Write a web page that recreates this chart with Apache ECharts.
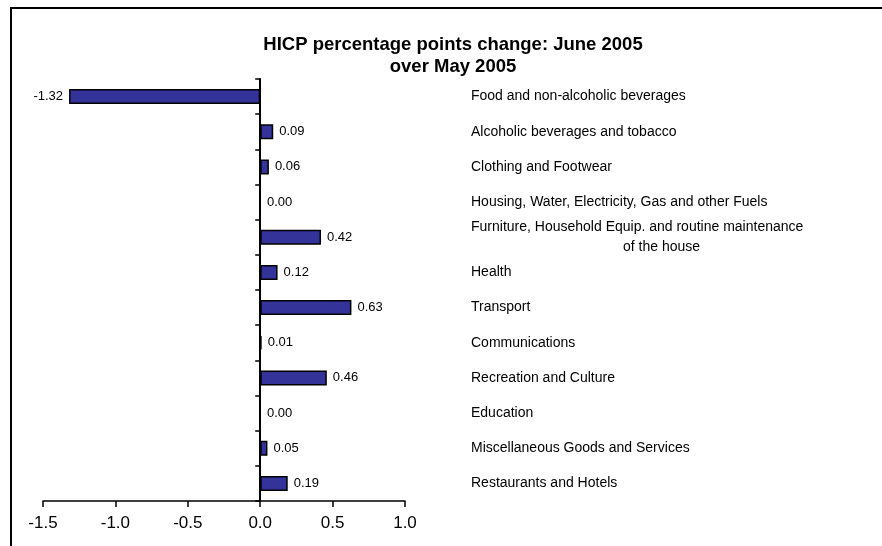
<!DOCTYPE html>
<html>
<head>
<meta charset="utf-8">
<script src="https://cdn.jsdelivr.net/npm/echarts@6/dist/echarts.min.js"></script>
<style>html,body{margin:0;padding:0;background:#fff}#c{width:882px;height:546px}</style>
</head>
<body>
<div id="c"></div>
<script>
const categories = [
  "Food and non-alcoholic beverages",
  "Alcoholic beverages and tobacco",
  "Clothing and Footwear",
  "Housing, Water, Electricity, Gas and other Fuels",
  "Furniture, Household Equip. and routine maintenance|of the house",
  "Health",
  "Transport",
  "Communications",
  "Recreation and Culture",
  "Education",
  "Miscellaneous Goods and Services",
  "Restaurants and Hotels"
];
const values = [-1.32, 0.09, 0.06, 0.00, 0.42, 0.12, 0.63, 0.01, 0.46, 0.00, 0.05, 0.19];
const titleLines = ["HICP percentage points change: June 2005", "over May 2005"];

const FONT = "'Liberation Sans', Arial, sans-serif";
const chart = echarts.init(document.getElementById('c'));
chart.setOption({
  animation: false,
  backgroundColor: '#fff',
  title: {
    text: titleLines.join('\n'),
    left: 448, top: 29, textAlign: 'center',
    textStyle: { fontFamily: FONT, fontSize: 18.5, fontWeight: 'bold', color: '#000', lineHeight: 22 }
  },
  graphic: [{
    type: 'rect', shape: { x: 11, y: 8, width: 900, height: 600 },
    style: { fill: 'none', stroke: '#000', lineWidth: 2 }
  }],
  grid: { left: 43, right: 477, top: 79, bottom: 45 },
  xAxis: {
    type: 'value', min: -1.5, max: 1.0, interval: 0.5,
    axisLine: { show: true, lineStyle: { color: '#000', width: 1.5 } },
    axisTick: { show: true, length: 6, lineStyle: { color: '#000', width: 1.5 } },
    axisLabel: { fontFamily: FONT, fontSize: 17, color: '#000', margin: 14, formatter: v => v.toFixed(1) },
    splitLine: { show: false }
  },
  yAxis: [{
    type: 'category', data: categories, inverse: true,
    axisLine: { onZero: true, lineStyle: { color: '#000', width: 2 } },
    axisTick: { show: true, length: 5, lineStyle: { color: '#000', width: 1.5 } },
    axisLabel: { show: false }
  }, {
    type: 'category', data: categories, inverse: true, position: 'right',
    axisLine: { show: false }, axisTick: { show: false },
    axisLabel: {
      margin: 66, align: 'left', color: '#000', fontFamily: FONT, fontSize: 14,
      formatter: v => {
        const p = v.split('|');
        return p.length > 1 ? '{a|' + p[0] + '}\n{b|' + p[1] + '}' : '{a|' + v + '}';
      },
      rich: {
        a: { fontFamily: FONT, fontSize: 14, color: '#000', lineHeight: 20 },
        b: { fontFamily: FONT, fontSize: 14, color: '#000', lineHeight: 20, padding: [0, 0, 0, 152] }
      }
    }
  }],
  series: [{
    type: 'bar', yAxisIndex: 0, barWidth: 15,
    itemStyle: { color: '#333399', borderColor: '#000', borderWidth: 1.5 },
    label: {
      show: true, fontFamily: FONT, fontSize: 13, color: '#000', distance: 6,
      formatter: p => p.value.toFixed(2)
    },
    data: values.map(v => ({ value: v, label: { position: v < 0 ? 'left' : 'right' } }))
  }]
});
</script>
</body>
</html>
